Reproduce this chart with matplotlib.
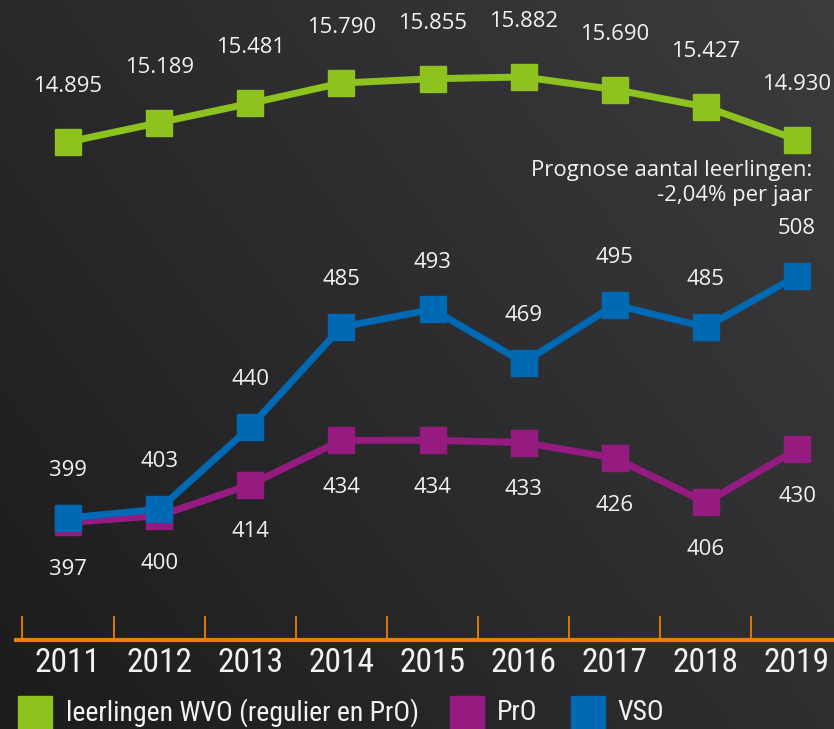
import numpy as np
import matplotlib
matplotlib.use("Agg")
import matplotlib.pyplot as plt
from matplotlib import font_manager
from matplotlib.patches import Rectangle

# ---------------- data ----------------
years = ["2011", "2012", "2013", "2014", "2015", "2016", "2017", "2018", "2019"]
wvo = [14895, 15189, 15481, 15790, 15855, 15882, 15690, 15427, 14930]
pro = [397, 400, 414, 434, 434, 433, 426, 406, 430]
vso = [399, 403, 440, 485, 493, 469, 495, 485, 508]
wvo_labels = ["14.895", "15.189", "15.481", "15.790", "15.855", "15.882", "15.690", "15.427", "14.930"]
legend_labels = ["leerlingen WVO (regulier en PrO)", "PrO", "VSO"]
note_text = "Prognose aantal leerlingen:\n-2,04% per jaar"

GREEN = "#8dc21f"
PURPLE = "#951b81"
BLUE = "#0069b4"
ORANGE = "#f07d00"
WHITE = "#f2f2f2"

names = {f.name for f in font_manager.fontManager.ttflist}
label_font = "Open Sans" if "Open Sans" in names else "DejaVu Sans"
narrow_kw = dict(family="DejaVu Sans", fontstretch="condensed")
for cand in ["Liberation Sans Narrow", "Roboto Condensed", "DejaVu Sans Condensed"]:
    if cand in names:
        narrow_kw = dict(family=cand)
        break

W, H = 834, 729
fig = plt.figure(figsize=(W / 100, H / 100), dpi=100)
renderer = fig.canvas.get_renderer()


def fit_size(text, target_px, base=20.0, **kw):
    t = fig.text(0, 0, text, fontsize=base, **kw)
    w = t.get_window_extent(renderer).width
    t.remove()
    return base * target_px / w


# background gradient (chalkboard-like)
bg = fig.add_axes([0, 0, 1, 1], zorder=0)
yy, xx = np.mgrid[0:1:200j, 0:1:200j]
dark = np.array([0.11, 0.11, 0.115])
light = np.array([0.235, 0.235, 0.245])
img = dark[None, None, :] + (light - dark)[None, None, :] * (0.6 * xx + 0.4 * (1 - yy))[..., None]
bg.imshow(img, extent=[0, 1, 0, 1], origin="upper", aspect="auto")
bg.axis("off")

ax = fig.add_axes([0, 0, 1, 1], zorder=2)
ax.patch.set_alpha(0)
x = np.arange(len(years))
sp = 91.125
ax.set_xlim(-68 / sp, (W - 68) / sp)
ax.set_ylim(399 - (H - 518) / 2.22, 399 + 518 / 2.22)
ax.axis("off")

ax2 = ax.twinx()
ax2.set_ylim(14895 - (H - 142) / 0.0659, 14895 + 142 / 0.0659)
ax2.axis("off")

ms = 18.5
lw = 5.0
ax.plot(x, pro, color=PURPLE, lw=lw, marker="s", ms=ms, zorder=3)
ax.plot(x, vso, color=BLUE, lw=lw, marker="s", ms=ms, zorder=4)
ax2.plot(x, wvo, color=GREEN, lw=lw, marker="s", ms=ms, zorder=3)

fs = fit_size("14.895", 69, family=label_font)
for i in x:
    ax.annotate(str(vso[i]), (i, vso[i]), xytext=(0, 34), textcoords="offset points",
                ha="center", va="center", color=WHITE, fontsize=fs, family=label_font)
    ax.annotate(str(pro[i]), (i, pro[i]), xytext=(0, -34), textcoords="offset points",
                ha="center", va="center", color=WHITE, fontsize=fs, family=label_font)
    ax2.annotate(wvo_labels[i], (i, wvo[i]), xytext=(0, 40), textcoords="offset points",
                 ha="center", va="center", color=WHITE, fontsize=fs, family=label_font)

# note
fig.text(812 / W, 1 - 183 / H, note_text, ha="right", va="center", color=WHITE,
         fontsize=fs, family=label_font, linespacing=1.3, multialignment="right")

# orange axis
tr = ax.get_xaxis_transform()
y_line = 1 - 640 / H
y_tick = 1 - 617 / H
ax.plot([-0.59, (W - 68) / sp], [y_line, y_line], color=ORANGE, lw=3.0, transform=tr,
        solid_capstyle="butt", zorder=2)
for i in x:
    ax.plot([i - 0.5, i - 0.5], [y_line, y_tick], color=ORANGE, lw=1.3, transform=tr, zorder=2)
ys = fit_size("2011", 66, **narrow_kw)
for i in x:
    ax.text(i, 1 - 663 / H, years[i], transform=tr, ha="center", va="center",
            color=WHITE, fontsize=ys, **narrow_kw)

# legend
ls = fit_size(legend_labels[0], 352, **narrow_kw)
for (x0, x1, c, tx, lab) in [(18, 52, GREEN, 66, legend_labels[0]),
                              (450, 484, PURPLE, 497, legend_labels[1]),
                              (571, 605, BLUE, 617, legend_labels[2])]:
    fig.patches.append(Rectangle((x0 / W, 0), (x1 - x0) / W, (H - 696) / H,
                                 transform=fig.transFigure, color=c, zorder=3))
    fig.text(tx / W, 1 - 713 / H, lab, ha="left", va="center", color=WHITE,
             fontsize=ls, **narrow_kw)

fig.savefig("out.png", dpi=100)
